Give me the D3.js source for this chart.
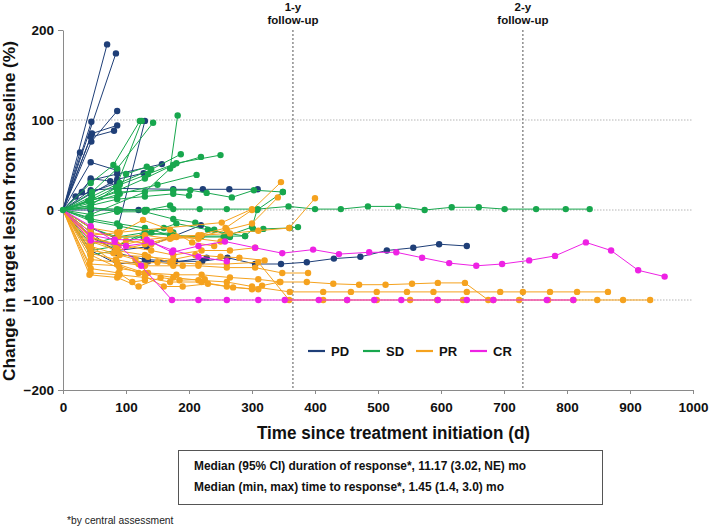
<!DOCTYPE html>
<html><head><meta charset="utf-8">
<script src="https://cdn.jsdelivr.net/npm/d3@7"></script>
<style>
html,body{margin:0;padding:0;background:#fff;}
svg{display:block;font-family:"Liberation Sans",Arial,sans-serif;}
</style></head>
<body>
<svg id="c" width="709" height="526"></svg>
<script>
// ---- data: [day, % change] per patient, grouped by best response ----
const pdSeries = [
  [[0,0],[70,184]],
  [[0,0],[84,174]],
  [[0,0],[45,76],[86,110]],
  [[0,0],[46,85],[86,94]],
  [[0,0],[44,81],[81,88]],
  [[0,0],[45,98]],
  [[0,0],[27,64]],
  [[0,0],[44,53],[86,44]],
  [[0,0],[44,-20],[83,-31],[130,99]],
  [[0,0],[44,33],[86,40],[157,51]],
  [[0,0],[44,22],[86,24],[175,23],[222,23],[264,23],[309,23]],
  [[0,0],[44,-30],[86,-45],[133,-41],[219,-17]],
  [[0,0],[44,-25],[86,-48],[130,-55],[178,-57],[221,-57],[261,-53],[305,-60],[346,-60],[387,-58],[430,-54],[472,-52],[514,-45],[556,-42],[597,-38],[641,-40]],
  [[0,0],[44,0],[86,0],[120,0]],
  [[0,0],[44,18],[86,34],[128,41]],
  [[0,0],[30,20],[44,35],[75,32]],
  [[0,0],[44,-45],[86,-60],[135,-57],[175,-58],[228,-53]],
  [[0,0],[20,15],[44,20],[86,30]]
];
const sdSeries = [
  [[0,0],[44,2],[86,1],[130,0],[175,1],[217,1],[260,1],[309,1],[358,4],[400,1],[441,1],[484,4],[532,4],[574,0],[617,3],[660,3],[701,1],[751,1],[798,1],[836,1]],
  [[0,0],[44,30],[80,50],[122,99]],
  [[0,0],[46,20],[86,46],[143,97]],
  [[0,0],[40,10],[84,25],[125,99]],
  [[0,0],[44,-5],[130,20],[170,46],[182,105]],
  [[0,0],[46,15],[90,30],[140,45],[187,62]],
  [[0,0],[44,10],[88,22],[130,35],[175,50],[219,59]],
  [[0,0],[44,5],[90,28],[135,40],[180,52],[250,61]],
  [[0,0],[45,8],[90,18],[150,28],[212,39]],
  [[0,0],[86,20],[175,22],[202,22],[228,19],[268,14],[303,22],[349,20]],
  [[0,0],[44,-10],[86,-15],[130,-20],[175,-29],[220,-29],[260,-29],[289,-29],[302,-21],[318,-21],[360,-20],[373,-19]],
  [[0,0],[44,-20],[86,-30],[130,-25],[170,-28],[215,-30],[255,-30],[300,-19],[308,0],[349,20]],
  [[0,0],[44,-30],[84,-40],[130,-28],[175,-25]],
  [[0,0],[44,-45],[86,-40],[130,-25],[160,-20]],
  [[0,0],[44,5],[86,12],[130,15],[175,18],[200,16]],
  [[0,0],[40,-8],[90,0],[133,0],[170,5]],
  [[0,0],[44,-50],[84,-45]],
  [[0,0],[44,-12],[90,-18],[140,-25],[180,-15],[230,-22],[289,-29]],
  [[0,0],[44,-38],[86,-30],[128,-30]],
  [[0,0],[44,3],[86,-2],[130,-2],[175,-10],[210,-14],[240,-22],[265,-30]],
  [[0,0],[44,12],[86,14],[100,40],[133,48]]
];
const prSeries = [
  [[0,0],[42,-30],[84,-45],[130,-50],[170,-58],[215,-60],[260,-60],[310,-58],[359,-100],[413,-100],[451,-100],[498,-100],[551,-100],[594,-100],[635,-100],[683,-100],[724,-100],[770,-100],[810,-100],[848,-100],[889,-100],[932,-100]],
  [[0,0],[44,-40],[86,-60],[130,-70],[175,-75],[215,-78],[260,-80],[300,-85],[360,-91],[413,-91],[457,-91],[498,-91],[546,-91],[588,-91],[641,-91],[694,-91],[730,-91],[773,-91],[816,-91],[865,-91]],
  [[0,0],[44,-50],[90,-65],[135,-70],[180,-72],[220,-72],[265,-75],[310,-77],[345,-80],[387,-80],[429,-82],[470,-83],[512,-83],[554,-82],[595,-81],[638,-81],[675,-100]],
  [[0,0],[44,-30],[88,-40],[130,-33],[175,-30],[215,-28],[258,-20],[300,0],[346,31]],
  [[0,0],[44,-25],[88,-30],[130,-28],[170,-32],[215,-30],[260,-22],[300,-15],[341,14]],
  [[0,0],[44,-35],[86,-45],[130,-38],[175,-30],[220,-28],[265,-26],[310,-23],[359,-20],[400,13]],
  [[0,0],[44,-55],[86,-58],[130,-62],[175,-62],[215,-62],[260,-64],[305,-64],[348,-70],[389,-70]],
  [[0,0],[44,-70],[90,-72],[130,-75],[170,-80],[220,-80],[260,-85],[300,-88],[316,-84],[344,-80]],
  [[0,0],[42,-60],[88,-62],[120,-70],[160,-85],[190,-85],[230,-82],[270,-86],[310,-88]],
  [[0,0],[44,-45],[90,-50],[135,-52],[175,-55],[210,-50],[250,-52],[280,-53],[320,-56]],
  [[0,0],[44,-35],[84,-40],[100,-34],[140,-38],[180,-30],[215,-32],[250,-35]],
  [[0,0],[44,-28],[90,-25],[127,-11],[170,-22],[205,-36],[240,-40]],
  [[0,0],[44,-48],[84,-55],[120,-60],[150,-58],[190,-62]],
  [[0,0],[42,-72],[86,-75],[120,-85],[155,-75],[185,-78],[225,-77]],
  [[0,0],[44,-65],[88,-70],[110,-80],[130,-78]],
  [[0,0],[42,-40],[80,-48],[115,-55]],
  [[0,0],[44,-30],[85,-38],[140,-45],[175,-50],[220,-45],[265,-45],[305,-42]],
  [[0,0],[44,-20],[86,-25],[252,-14],[300,1]]
];
const crSeries = [
  [[0,0],[44,-18],[82,-35],[124,-62],[173,-100],[215,-100],[260,-100],[310,-100],[352,-100],[406,-100],[451,-100],[494,-100],[537,-100],[595,-100],[641,-100],[683,-100],[768,-100],[810,-100]],
  [[0,0],[44,-28],[82,-33],[133,-33],[173,-47],[215,-40],[257,-35],[305,-42],[348,-48],[397,-44],[438,-49],[486,-47],[529,-47],[570,-53],[613,-59],[656,-62],[697,-60],[740,-56],[781,-51],[830,-36],[870,-45],[913,-67],[955,-74]],
  [[0,0],[44,-34],[100,-40],[140,-36],[175,-45],[215,-52],[260,-57]]
];
const responseGroups = ["PD","SD","PR","CR"];
const groupColors = ["#1f3f78","#18a74e","#f5a21e","#ee22e4"];
const xTicks = [0,100,200,300,400,500,600,700,800,900,1000];
const yTicks = [-200,-100,0,100,200];
const gridValues = [100,0,-100];
const followUps = [{day:365,label:["1-y","follow-up"]},{day:730,label:["2-y","follow-up"]}];
const boxLines = ["Median (95% CI) duration of response*, 11.17 (3.02, NE) mo",
                  "Median (min, max) time to response*, 1.45 (1.4, 3.0) mo"];
const footnote = "*by central assessment";
const xTitle = "Time since treatment initiation (d)";
const yTitle = "Change in target lesion from baseline (%)";

// ---- drawing ----
const svg = d3.select("#c");
const x = d3.scaleLinear().domain([0,1000]).range([63,693]);
const y = d3.scaleLinear().domain([-200,200]).range([390,30]);
const color = d3.scaleOrdinal().domain(responseGroups).range(groupColors);

// gridlines
svg.append("g").selectAll("line").data(gridValues).join("line")
  .attr("x1", x(0)).attr("x2", x(1000))
  .attr("y1", d=>y(d)).attr("y2", d=>y(d))
  .attr("stroke","#b5b5b5").attr("stroke-width",1).attr("stroke-dasharray","1.5,1.5");

// follow-up lines
const fu = svg.append("g").selectAll("g").data(followUps).join("g");
fu.append("line").attr("x1",d=>x(d.day)).attr("x2",d=>x(d.day))
  .attr("y1", y(200)).attr("y2", y(-200))
  .attr("stroke","#555").attr("stroke-width",1).attr("stroke-dasharray","2,2");
fu.each(function(d){
  const t = d3.select(this).append("text").attr("text-anchor","middle")
    .attr("font-size","11.5px").attr("font-weight","bold").attr("fill","#111");
  d.label.forEach((s,i)=> t.append("tspan").attr("x", x(d.day)).attr("y", 11 + i*12.5).text(s));
});

// axes
const yAxis = svg.append("g").attr("transform",`translate(${x(0)},0)`)
  .call(d3.axisLeft(y).tickValues(yTicks).tickSize(5).tickSizeOuter(0).tickPadding(4));
const xAxis = svg.append("g").attr("transform",`translate(0,${y(-200)})`)
  .call(d3.axisBottom(x).tickValues(xTicks).tickFormat(d3.format("d")).tickSize(4).tickSizeOuter(0).tickPadding(8));
[yAxis,xAxis].forEach(a=>{
  a.select(".domain").attr("stroke","#8a8a8a");
  a.selectAll(".tick line").attr("stroke","#8a8a8a");
  a.selectAll(".tick text").attr("font-size","13.5px").attr("font-weight","bold")
    .attr("fill","#111").attr("font-family","'Liberation Sans',Arial,sans-serif");
});

// series
const line = d3.line().x(d=>x(d[0])).y(d=>y(d[1]));
const groups = [pdSeries, sdSeries, prSeries, crSeries];
groups.forEach((series,gi)=>{
  const c = color(responseGroups[gi]);
  const g = svg.append("g");
  g.selectAll("path").data(series).join("path")
    .attr("d", line).attr("fill","none").attr("stroke",c).attr("stroke-width",1);
  g.selectAll("circle").data(series.flatMap(s=>s.slice(1))).join("circle")
    .attr("cx",d=>x(d[0])).attr("cy",d=>y(d[1])).attr("r",3.2).attr("fill",c);
});
// baseline dot
svg.append("circle").attr("cx",x(0)).attr("cy",y(0)).attr("r",3.2).attr("fill",groupColors[1]);

// legend
const legX = [308,363,416,470];
const leg = svg.append("g").selectAll("g").data(responseGroups).join("g")
  .attr("transform",(d,i)=>`translate(${legX[i]},351)`);
leg.append("line").attr("x1",0).attr("x2",17).attr("stroke",d=>color(d)).attr("stroke-width",2.2);
leg.append("text").attr("x",23).attr("y",4.5).attr("font-size","13px").attr("font-weight","bold")
  .attr("fill","#111").text(d=>d);

// axis titles
svg.append("text").attr("x",393.5).attr("y",439).attr("text-anchor","middle")
  .attr("font-size","17.5px").attr("font-weight","bold").attr("fill","#111")
  .attr("textLength",273).attr("lengthAdjust","spacingAndGlyphs").text(xTitle);
svg.append("text").attr("transform","translate(15,211) rotate(-90)").attr("text-anchor","middle")
  .attr("font-size","17px").attr("font-weight","bold").attr("fill","#111")
  .attr("textLength",340).attr("lengthAdjust","spacingAndGlyphs").text(yTitle);

// box
const boxWidths = [332,310];
svg.append("rect").attr("x",178.5).attr("y",450.5).attr("width",424).attr("height",54)
  .attr("fill","none").attr("stroke","#555").attr("stroke-width",1);
svg.append("g").selectAll("text").data(boxLines).join("text")
  .attr("x",194).attr("y",(d,i)=>470 + i*21).attr("font-size","12px").attr("font-weight","bold")
  .attr("fill","#111").attr("textLength",(d,i)=>boxWidths[i]).attr("lengthAdjust","spacingAndGlyphs")
  .text(d=>d);
svg.append("text").attr("x",67).attr("y",524).attr("font-size","10.3px").attr("fill","#222").text(footnote);
</script>
</body></html>
